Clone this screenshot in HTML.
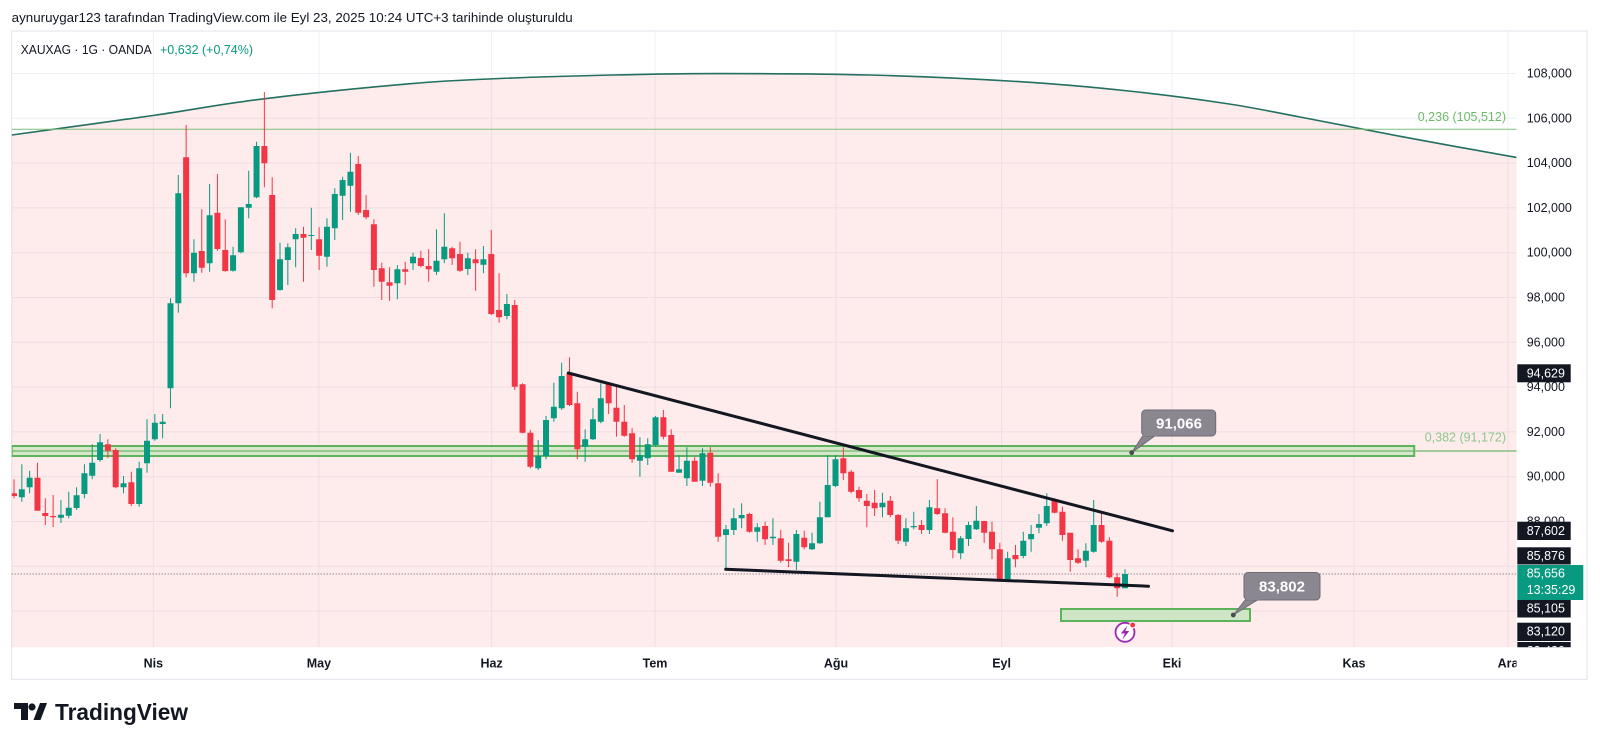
<!DOCTYPE html>
<html>
<head>
<meta charset="utf-8">
<style>
  html,body{margin:0;padding:0;background:#ffffff;}
  body{width:1600px;height:745px;overflow:hidden;}
  svg{display:block;font-family:"Liberation Sans",Arial,sans-serif;}
</style>
</head>
<body>
<svg id="c" width="1600" height="745" viewBox="0 0 1600 745" xmlns="http://www.w3.org/2000/svg">
  <defs>
    <clipPath id="plot"><rect x="11.7" y="31" width="1504.8" height="616.3"/></clipPath>
    <clipPath id="axis"><rect x="1516.5" y="31" width="70" height="616.3"/></clipPath>
    <clipPath id="taxis"><rect x="11.7" y="647.3" width="1504.8" height="32"/></clipPath>
  </defs>
  <rect x="0" y="0" width="1600" height="745" fill="#ffffff"/>

  <!-- header -->
  <text x="11.7" y="21.8" font-size="13" fill="#131722" textLength="561" lengthAdjust="spacingAndGlyphs">aynuruygar123 tarafından TradingView.com ile Eyl 23, 2025 10:24 UTC+3 tarihinde oluşturuldu</text>

  <!-- panel border -->
  <rect x="11.7" y="31" width="1575.3" height="648.3" fill="none" stroke="#e0e3eb" stroke-width="1"/>

  <g clip-path="url(#plot)">
    <g id="grid" stroke="#eef0f5" stroke-width="1"></g>
    <path id="pinkfill" fill="#f23645" fill-opacity="0.1"/>
    <path id="arc" fill="none" stroke="#22705f" stroke-width="1.6"/>
    <!-- fib 0.236 -->
    <line x1="11.7" y1="129.2" x2="1516.5" y2="129.2" stroke="#7fbf7a" stroke-width="1"/>
    <text x="1506" y="121" font-size="12.5" fill="#6dbb6a" text-anchor="end">0,236 (105,512)</text>
    <!-- zone box 0.382 -->
    <rect x="11.7" y="446" width="1402.5" height="10" fill="#cfe6c6" fill-opacity="0.85" stroke="#5cb35a" stroke-width="2"/>
    <line x1="11.7" y1="451" x2="1516.5" y2="451" stroke="#6fb868" stroke-width="1.3"/>
    <text x="1506" y="441.5" font-size="12.5" fill="#8cc98a" text-anchor="end">0,382 (91,172)</text>
    <!-- lower box -->
    <rect x="1061" y="609" width="189" height="12" fill="#cfe6c6" stroke="#5cb35a" stroke-width="2"/>
    <!-- current price dotted line -->
    <line x1="11.7" y1="574" x2="1516.5" y2="574" stroke="#5d606b" stroke-width="1" stroke-dasharray="1,2"/>
    <g id="candles"></g>
    <!-- trendlines -->
    <line x1="568.3" y1="373" x2="1172.5" y2="530.8" stroke="#131722" stroke-width="3" stroke-linecap="round"/>
    <line x1="725.7" y1="569.3" x2="1148.5" y2="586.2" stroke="#131722" stroke-width="3" stroke-linecap="round"/>
    <!-- callout 91,066 -->
    <polygon points="1143.3,435 1156,435 1131.7,452.7" fill="#8b8790" stroke="#6e6b73" stroke-width="1"/>
    <rect x="1141.7" y="410" width="74" height="26" rx="4" fill="#8b8790" stroke="#6e6b73" stroke-width="1"/>
    <rect x="1143" y="433" width="14" height="3" fill="#8b8790"/>
    <circle cx="1131.7" cy="452.7" r="2.4" fill="#4a4a4f"/>
    <text x="1179" y="428.5" font-size="15" font-weight="bold" fill="#ffffff" text-anchor="middle">91,066</text>
    <!-- callout 83,802 -->
    <polygon points="1246,599 1259,599 1233.3,615" fill="#8b8790" stroke="#6e6b73" stroke-width="1"/>
    <rect x="1244" y="572.5" width="76" height="27.5" rx="4" fill="#8b8790" stroke="#6e6b73" stroke-width="1"/>
    <rect x="1245.5" y="597" width="14" height="3" fill="#8b8790"/>
    <circle cx="1233.3" cy="615" r="2.4" fill="#4a4a4f"/>
    <text x="1282" y="591.5" font-size="15" font-weight="bold" fill="#ffffff" text-anchor="middle">83,802</text>
    <!-- lightning icon -->
    <circle cx="1125" cy="632.3" r="9.5" fill="#ffffff" stroke="#9c27b0" stroke-width="1.8"/>
    <path d="M1127.5,625.5 L1120.8,633.5 L1124.8,633.5 L1122.5,639.5 L1129.3,631 L1125.3,631 Z" fill="#9c27b0"/>
    <circle cx="1132.7" cy="625" r="3" fill="#f23645" stroke="#ffffff" stroke-width="1"/>
  </g>

  <!-- symbol legend -->
  <text x="20.7" y="53.8" font-size="13" fill="#131722" textLength="131" lengthAdjust="spacingAndGlyphs">XAUXAG · 1G · OANDA</text>
  <text x="160" y="53.8" font-size="13" fill="#089981" textLength="93" lengthAdjust="spacingAndGlyphs">+0,632 (+0,74%)</text>

  <!-- price axis -->
  <g id="paxis" clip-path="url(#axis)" font-size="12.5">
    <g fill="#131722" dominant-baseline="central">
      <text x="1526.7" y="73.5" dominant-baseline="central">108,000</text>
      <text x="1526.7" y="118.3" dominant-baseline="central">106,000</text>
      <text x="1526.7" y="163.1" dominant-baseline="central">104,000</text>
      <text x="1526.7" y="207.9" dominant-baseline="central">102,000</text>
      <text x="1526.7" y="252.7" dominant-baseline="central">100,000</text>
      <text x="1526.7" y="297.5" dominant-baseline="central">98,000</text>
      <text x="1526.7" y="342.3" dominant-baseline="central">96,000</text>
      <text x="1526.7" y="387.1" dominant-baseline="central">94,000</text>
      <text x="1526.7" y="431.9" dominant-baseline="central">92,000</text>
      <text x="1526.7" y="476.7" dominant-baseline="central">90,000</text>
      <text x="1526.7" y="521.5" dominant-baseline="central">88,000</text>
    </g>
    <g fill="#131722">
      <rect x="1517.3" y="364.3" width="53.4" height="18"/>
      <rect x="1517.3" y="521.7" width="53.4" height="18.3"/>
      <rect x="1517.3" y="547.3" width="53.4" height="17.2"/>
      <rect x="1517.3" y="600" width="53.4" height="17.5"/>
      <rect x="1517.3" y="622.7" width="53.4" height="18.3"/>
      <rect x="1517.3" y="642" width="53.4" height="18"/>
    </g>
    <rect x="1517.3" y="565" width="66" height="35" fill="#089981"/>
    <g fill="#ffffff">
      <text x="1526.7" y="373.3" dominant-baseline="central">94,629</text>
      <text x="1526.7" y="530.8" dominant-baseline="central">87,602</text>
      <text x="1526.7" y="555.8" dominant-baseline="central">85,876</text>
      <text x="1526.7" y="573.3" dominant-baseline="central">85,656</text>
      <text x="1526.7" y="590" dominant-baseline="central">13:35:29</text>
      <text x="1526.7" y="608.7" dominant-baseline="central">85,105</text>
      <text x="1526.7" y="631.5" dominant-baseline="central">83,120</text>
      <text x="1526.7" y="651" dominant-baseline="central">83,430</text>
    </g>
  </g>

  <!-- time axis -->
  <g clip-path="url(#taxis)" font-size="12.5" font-weight="bold" fill="#131722" text-anchor="middle">
    <text x="153.3" y="663.5" dominant-baseline="central">Nis</text>
    <text x="318.9" y="663.5" dominant-baseline="central">May</text>
    <text x="491.6" y="663.5" dominant-baseline="central">Haz</text>
    <text x="655" y="663.5" dominant-baseline="central">Tem</text>
    <text x="836" y="663.5" dominant-baseline="central">Ağu</text>
    <text x="1001.6" y="663.5" dominant-baseline="central">Eyl</text>
    <text x="1172" y="663.5" dominant-baseline="central">Eki</text>
    <text x="1354" y="663.5" dominant-baseline="central">Kas</text>
    <text x="1508" y="663.5" dominant-baseline="central">Ara</text>
  </g>

  <!-- logo -->
  <g fill="#131722">
    <path d="M14,703 H28 V720 H21 V709 H14 Z"/>
    <circle cx="32" cy="707" r="3.6"/>
    <path d="M33.5,720 L40,703 H47 L40.5,720 Z"/>
  </g>
  <text x="55" y="720" font-size="23" font-weight="bold" fill="#131722" textLength="133" lengthAdjust="spacingAndGlyphs">TradingView</text>
</svg>

<script>
(function(){
  var NS="http://www.w3.org/2000/svg";
  function el(n,a,p){var e=document.createElementNS(NS,n);for(var k in a)e.setAttribute(k,a[k]);p.appendChild(e);return e;}
  // grid
  var g=document.getElementById('grid');
  for(var k=0;k<13;k++){var y=73.5+k*44.8;el('line',{x1:11.7,y1:y,x2:1516.5,y2:y},g);}
  [153.3,318.9,491.6,655,836,1001.6,1172,1354,1508].forEach(function(x){el('line',{x1:x,y1:31,x2:x,y2:647.3},g);});
  // arc via catmull-rom
  var P=[[11.7,135],[153,115.5],[260,99.3],[409,83.8],[500,78.5],[613,75],[720,73.6],[869,75],[1022,81.8],[1124,90.5],[1226,103.5],[1300,117],[1400,136.3],[1516.5,157.5]];
  var d="M"+P[0][0]+","+P[0][1];
  for(var i=0;i<P.length-1;i++){
    var p0=P[i-1]||P[i],p1=P[i],p2=P[i+1],p3=P[i+2]||P[i+1];
    var c1x=p1[0]+(p2[0]-p0[0])/6,c1y=p1[1]+(p2[1]-p0[1])/6;
    var c2x=p2[0]-(p3[0]-p1[0])/6,c2y=p2[1]-(p3[1]-p1[1])/6;
    d+=" C"+c1x.toFixed(2)+","+c1y.toFixed(2)+" "+c2x.toFixed(2)+","+c2y.toFixed(2)+" "+p2[0]+","+p2[1];
  }
  document.getElementById('arc').setAttribute('d',d);
  document.getElementById('pinkfill').setAttribute('d',"M11.7,647.3 L11.7,135 "+d.replace(/^M[^ ]+/,"")+" L1516.5,647.3 Z");
  // candles [bodyTop, bodyBot, wickTop, wickBot, green]
  var C=[
[493.3,496,479.3,498.3,0],[489.3,497.3,464.3,501.7,1],[477.7,487.3,470.7,493.3,1],[477.7,510.7,462.7,510.7,0],
[513,516,498.3,525,0],[516,517.3,495,527,0],[514.7,517.7,500,523,1],[507.7,515.7,491.7,518.3,1],
[495.3,508,487.3,510,1],[473.3,494,464.3,498.3,1],[462.7,475.7,444.3,479.3,1],[442.3,460,434,461.7,1],
[444.3,450.7,439.3,458.3,0],[450,487.3,448.3,488.3,0],[483.3,487.3,476,493.3,1],[482.3,504,471.7,506,0],
[468.3,504,461.7,506.7,1],[440.7,463.3,419.3,472.7,1],[422.7,439.3,414,440.7,1],[421.7,424,414,438.3,1],
[303.3,388.3,298.3,408.3,1],[193.3,303.3,175,312.7,1],[157.3,273.3,125,277.3,0],[252.7,273.3,239.3,281.7,1],
[251,267.7,209.3,272.7,0],[215.3,263.3,184,271.7,1],[212.7,249,174,250.7,0],[250,271,219.3,271.7,0],
[255.3,270.7,246.7,271.7,1],[207.3,252.3,207.3,253.3,1],[204,207.7,170.7,218.3,1],[146,197.3,141.7,198.3,1],
[146,163.3,92,187.3,0],[195,300,177.3,308.3,0],[259.3,290,242.7,290.7,1],[247.3,260,243.3,285,1],
[234,239.3,228.3,267.3,1],[234,237.7,226.7,281.7,0],[235,235.7,207.7,250,1],[239.3,255.7,227.3,270,0],
[226.7,256.7,218.3,266.7,1],[194,228.3,188.3,240,1],[180,195.7,176.7,220,1],[171.7,185.7,152.7,211.7,1],
[164,212.7,156,215,0],[210,217.3,195,219.3,0],[224.3,270,219.3,286.7,0],[268.3,281.7,262.7,300,0],
[282.3,285.7,267.3,300.7,0],[269.3,283.3,265,299.3,1],[269.3,271.7,261.7,285,0],[256.7,263.3,252.7,270,1],
[258,266,250.7,267.3,0],[266,269.3,249.3,281.7,0],[260.7,271.7,229.3,275,1],[246.7,259.3,213.3,263.3,1],
[248.3,258.3,246.7,265,0],[254,270.7,241.7,271.7,0],[258.3,269,252.7,275,1],[259.3,263.3,249.3,290.7,0],
[259.3,264.7,246,273.3,1],[254,314,230,315,0],[310,317.3,273.3,322.7,0],[304,316,294,319.3,1],
[305,386.7,300,390,0],[384.3,432.7,383.3,433.3,0],[432.7,466.7,430,468.3,0],[456,468.3,440,470,1],
[420,456,416,459.3,1],[406.7,418.3,382.7,421.7,1],[376,408.3,362.7,410,1],[373.3,405,357.3,406,0],
[403.3,449.3,391.7,459.3,0],[439.3,446.7,429.3,461.7,1],[419.3,439.3,408.3,440,1],[398.3,421.7,383.3,423.3,1],
[383.3,403.3,383.3,414,0],[407.7,421.7,386.7,436.7,0],[421.7,435.7,405,436.7,0],[433.3,459.3,428.3,462.7,0],
[455,460.7,437.3,476.7,1],[444.3,458.3,438.3,465,1],[417.3,445,416,446.7,1],[417.3,436.7,410,439.3,0],
[435,471.7,429.3,471.7,0],[469.3,472.7,455,472.7,1],[460.7,478.3,447.3,486,1],[460.7,481.7,457.3,481.7,0],
[453.3,480.7,448.3,486,1],[452.7,482.7,447.3,486.7,0],[483.3,536.7,473.3,541.7,0],[529.3,535,525,569.3,1],
[518.3,530,508.3,535,1],[515,518.3,503.3,528.3,1],[514,531.7,512.7,532.7,0],[527.3,531.7,523.3,541.7,1],
[526,539.3,521.7,545,0],[536.7,538.3,518.3,545,1],[538.3,560.7,530,562.7,0],[559.3,561,542.7,567.3,0],
[534,561.7,530,570,1],[537.7,547.3,530.7,549.3,0],[543.3,549.3,532.7,550,1],[517.3,543.3,501.7,544,1],
[485,517.3,455,517.3,1],[459.3,486,455,487.3,1],[458.3,473.3,447.3,480,0],[471.7,491.7,470,493.3,0],
[490,498.3,486.7,501.7,0],[500.7,506,494,527.3,0],[502.7,508.3,490,516,0],[502.7,507.3,492.7,517.3,1],
[500.7,515,496,517.3,0],[515,540.7,514,544,0],[528.3,541.7,518.3,546,1],[526,527.3,511.7,529.3,1],
[525,530,520,534,0],[507.3,530,500,534,1],[508.3,514,479.3,515,0],[513.3,532.7,508.3,533.3,0],
[531.7,550,517.3,558.3,0],[538.3,553.3,536,559.3,1],[525,539,521.7,546,1],[520.7,529.3,506,530,1],
[521,532.7,520.7,542.7,0],[531.7,549.3,521.7,559.3,0],[549.3,580,542.7,580.7,0],[558.3,579.3,551.7,580,1],
[555,559.3,545,567.3,0],[540.7,556,531.7,558.3,1],[534,539.3,525,551.7,1],[524,527.7,514,533.3,1],
[506,523.3,493.3,526,1],[500,512.7,498.3,513.3,0],[511.7,535,506.7,540.7,0],[532.7,560,532.7,571.7,0],
[558.3,562.7,549.3,564,0],[550.7,560.7,543.3,567.3,1],[525,551.7,500,552.7,1],[525,541.7,513.3,542.7,0],
[540.7,577.3,537.3,578.3,0],[577.3,588.3,573.3,596.7,0],[574,588.3,569.3,588.3,1]
  ];
  var cg=document.getElementById('candles');
  var n=C.length, step=(1125-14)/(n-1);
  var gp="",rp="",gw="",rw="";
  for(var i=0;i<n;i++){
    var c=C[i], x=14+i*step;
    var bh=Math.max(1,c[1]-c[0]);
    var b="M"+(x-3).toFixed(2)+","+c[0]+" h6 v"+bh.toFixed(2)+" h-6 Z ";
    var w="M"+x.toFixed(2)+","+c[2]+" V"+c[3]+" ";
    if(c[4]){gp+=b;gw+=w;}else{rp+=b;rw+=w;}
  }
  el('path',{d:gw,stroke:'#089981','stroke-width':1,fill:'none'},cg);
  el('path',{d:rw,stroke:'#f23645','stroke-width':1,fill:'none'},cg);
  el('path',{d:gp,fill:'#089981'},cg);
  el('path',{d:rp,fill:'#f23645'},cg);
})();
</script>
</body>
</html>
